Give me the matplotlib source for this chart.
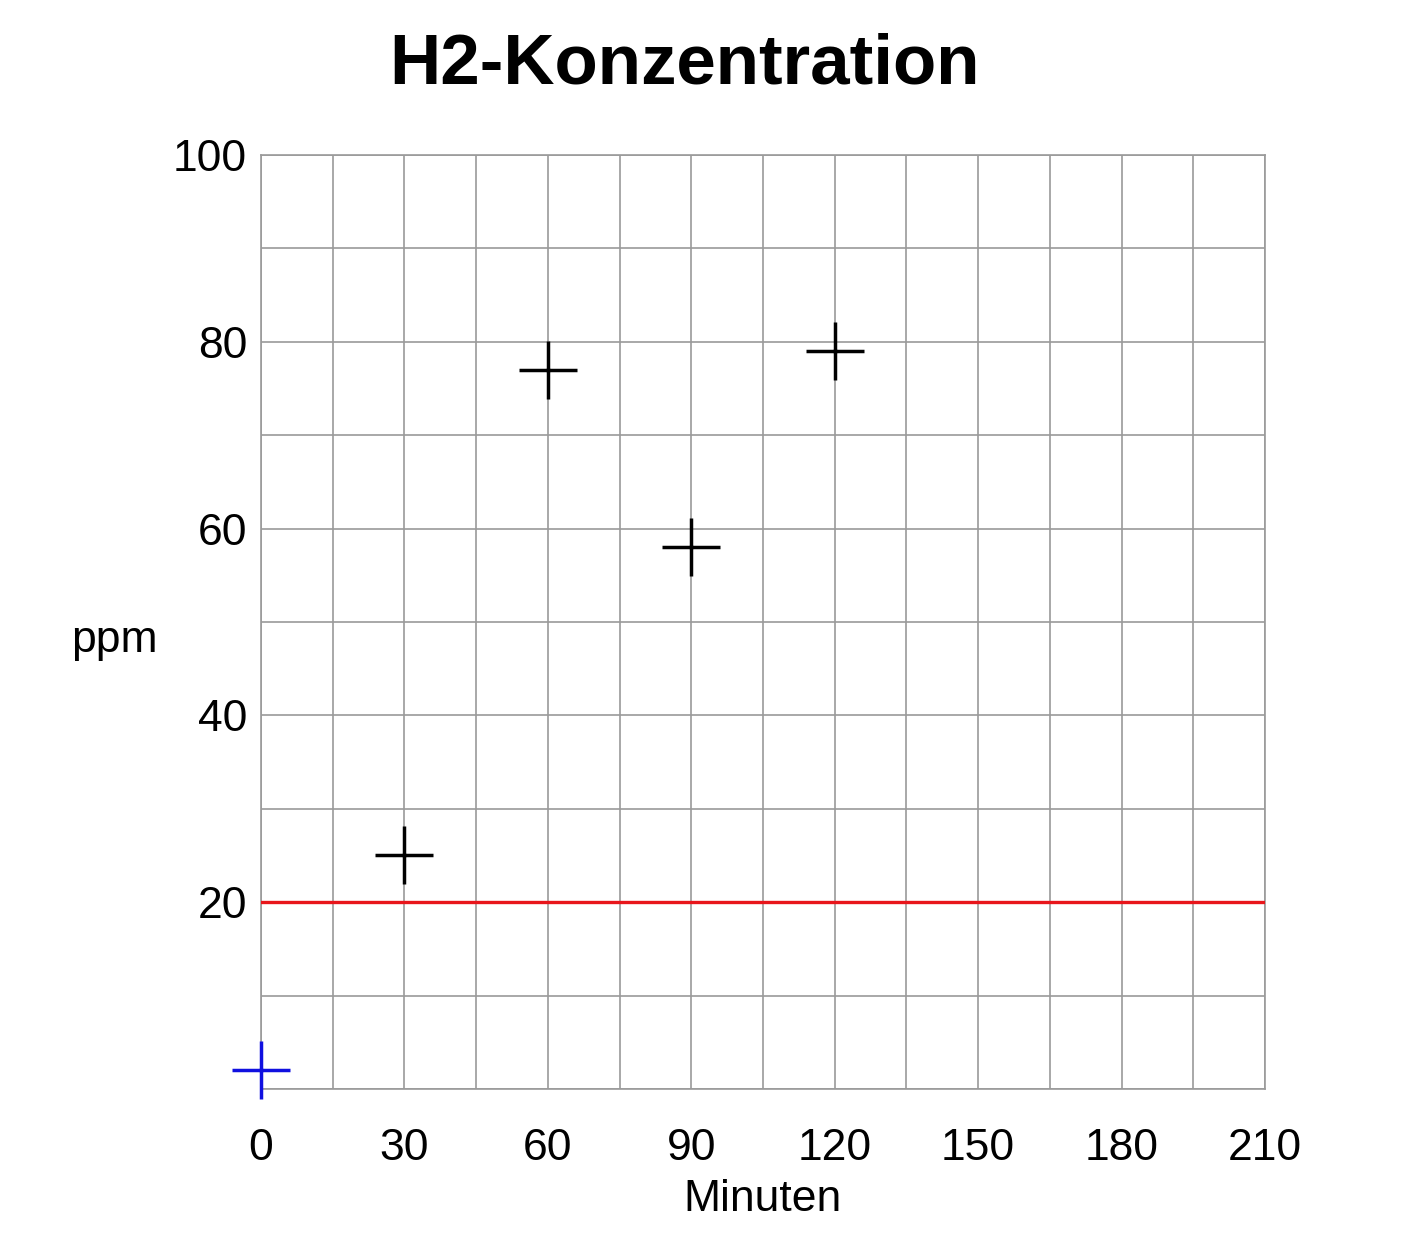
import matplotlib.pyplot as plt
from matplotlib.ticker import MultipleLocator

plt.rcParams['font.family'] = ['Liberation Sans', 'DejaVu Sans']

# measurements (minutes, ppm)
minutes = [30, 60, 90, 120]
ppm = [25, 77, 58, 79]
start_min = [0]
start_ppm = [2]
limit = 20

x_ticks = [0, 30, 60, 90, 120, 150, 180, 210]
y_ticks = [20, 40, 60, 80, 100]

fig = plt.figure(figsize=(14.03, 12.43), dpi=100)
ax = fig.add_axes([0.186, 0.1239, 0.7156, 0.7514])

ax.set_xlim(0, 210)
ax.set_ylim(0, 100)
ax.xaxis.set_minor_locator(MultipleLocator(15))
ax.yaxis.set_minor_locator(MultipleLocator(10))
ax.set_xticks(x_ticks)
ax.set_yticks(y_ticks)
ax.grid(which='both', color='#9a9a9a', linewidth=1.2)
ax.set_axisbelow(True)
for s in ax.spines.values():
    s.set_color('#9a9a9a')
    s.set_linewidth(1.2)
ax.tick_params(which='both', length=0)
ax.tick_params(axis='x', labelsize=32, pad=28)
ax.tick_params(axis='y', labelsize=32, pad=10)

ax.axhline(limit, color='#e8161b', linewidth=2.4, zorder=3)
ax.plot(minutes, ppm, linestyle='none', marker='+', markersize=42,
        markeredgewidth=2.5, color='black', zorder=4)
ax.plot(start_min, start_ppm, linestyle='none', marker='+', markersize=42,
        markeredgewidth=2.5, color='#1010e0', zorder=4, clip_on=False)

ax.set_xlabel('Minuten', fontsize=32, labelpad=7)
ax.set_ylabel('ppm', fontsize=32, rotation=0, labelpad=0)
ax.yaxis.set_label_coords(-0.146, 0.458)
fig.text(0.488, 0.947, 'H2-Konzentration', fontsize=51, fontweight='bold',
         ha='center', va='center')

fig.savefig('out.png', dpi=100)
